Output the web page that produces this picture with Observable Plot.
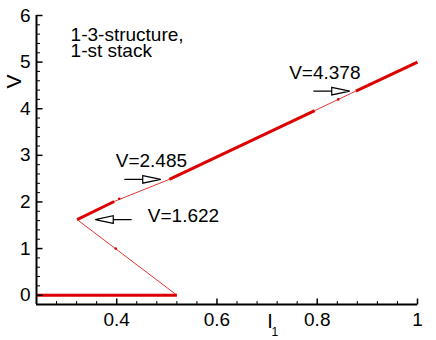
<!DOCTYPE html>
<html><head><meta charset="utf-8">
<script src="https://cdn.jsdelivr.net/npm/d3@7"></script>
<script src="https://cdn.jsdelivr.net/npm/@observablehq/plot@0.6"></script>
<style>body{margin:0;background:#fff}</style>
</head><body><div id="chart"></div>
<script>
// Branch of the I-V curve (vertices) and kind of each segment between them
const pathI = [0.24, 0.52, 0.321, 0.395, 0.505, 0.795, 0.877, 1.0];
const pathV = [0, 0, 1.622, 2.01, 2.485, 3.96, 4.378, 5.0];
const segKind = ["stable", "jump", "stable", "jump", "stable", "jump", "stable"];
// small sample points on the jump segments
const dotI = [0.398, 0.405, 0.842];
const dotV = [1.0, 2.07, 4.2];
// annotations
const annoText = ["V=2.485", "V=1.622", "V=4.378"];
const annoI = [0.398, 0.462, 0.744];
const annoV = [3.05, 1.864, 4.928];
const arrowI = [0.416, 0.429, 0.793];
const arrowV = [2.485, 1.622, 4.378];
const arrowDir = ["right", "left", "right"];
const titleLines = ["1-3-structure,", "1-st stack"];
const titleI = [0.308, 0.308];
const titleV = [5.749, 5.393];
// ticks
const xTicks = [0.4, 0.6, 0.8, 1.0];
const xTickLabels = ["0.4", "0.6", "0.8", "1"];
const yTicks = [0, 1, 2, 3, 4, 5, 6];
const yTickLabels = ["0", "1", "2", "3", "4", "5", "6"];
const xMinor = [0.28, 0.32, 0.36, 0.44, 0.48, 0.52, 0.56, 0.64, 0.68, 0.72, 0.76, 0.84, 0.88, 0.92, 0.96];
const yMinor = [0.2,0.4,0.6,0.8,1.2,1.4,1.6,1.8,2.2,2.4,2.6,2.8,3.2,3.4,3.6,3.8,4.2,4.4,4.6,4.8,5.2,5.4,5.6,5.8];
const xMin = 0.24, xMax = 1.0, yMin = -0.2, yMax = 6;

const segs = segKind.map((k, i) => ({k, x1: pathI[i], y1: pathV[i], x2: pathI[i + 1], y2: pathV[i + 1]}));
const dots = dotI.map((x, i) => ({x, y: dotV[i]}));
const annos = annoText.map((t, i) => ({t, x: annoI[i], y: annoV[i]}));
const titles = titleLines.map((t, i) => ({t, x: titleI[i], y: titleV[i]}));
const arrows = arrowI.map((x, i) => ({x, y: arrowV[i], rot: arrowDir[i] === "right" ? 90 : -90}));

const red = "#dc0000";
const font = '"Liberation Sans", Arial, Helvetica, sans-serif';
const tickShape = {draw(ctx, l) { ctx.moveTo(0, 0); ctx.lineTo(0, -l); }};
const arrowShape = {draw(ctx, l) {
  const h = 18, w = 3.8;
  ctx.moveTo(0, 0); ctx.lineTo(0, -(l - h));
  ctx.moveTo(-w, -(l - h)); ctx.lineTo(0, -l); ctx.lineTo(w, -(l - h)); ctx.closePath();
}};

const chart = Plot.plot({
  width: 436, height: 340,
  marginLeft: 36, marginRight: 19, marginTop: 15, marginBottom: 36,
  x: {domain: [xMin, xMax], axis: null},
  y: {domain: [yMin, yMax], axis: null},
  style: {fontFamily: font, fontSize: "19px", color: "black", background: "white"},
  marks: [
    Plot.link(segs.filter(d => d.k === "jump"), {x1: "x1", y1: "y1", x2: "x2", y2: "y2", stroke: red, strokeWidth: 0.8}),
    Plot.link(segs.filter(d => d.k === "stable"), {x1: "x1", y1: "y1", x2: "x2", y2: "y2", stroke: red, strokeWidth: 3, strokeLinecap: "butt"}),
    Plot.dot(dots, {x: "x", y: "y", r: 1.3, fill: red, stroke: null}),
    // axes lines
    Plot.ruleX([xMin], {stroke: "black", strokeWidth: 2}),
    Plot.ruleY([yMin], {stroke: "black", strokeWidth: 2}),
    // ticks (inward)
    Plot.vector(xTicks, {x: d => d, y: yMin, rotate: 0, length: 6, anchor: "start", shape: tickShape, stroke: "black", strokeWidth: 1.5, strokeLinecap: "butt"}),
    Plot.vector(xMinor, {x: d => d, y: yMin, rotate: 0, length: 3.5, anchor: "start", shape: tickShape, stroke: "black", strokeWidth: 1, strokeLinecap: "butt"}),
    Plot.vector(yTicks, {x: xMin, y: d => d, rotate: 90, length: 6, anchor: "start", shape: tickShape, stroke: "black", strokeWidth: 1.5, strokeLinecap: "butt"}),
    Plot.vector(yMinor, {x: xMin, y: d => d, rotate: 90, length: 3.5, anchor: "start", shape: tickShape, stroke: "black", strokeWidth: 1, strokeLinecap: "butt"}),
    // tick labels
    Plot.text(xTicks, {x: d => d, y: yMin, text: (d, i) => xTickLabels[i], dy: 8, lineAnchor: "top", fontSize: 19, fill: "black"}),
    Plot.text(yTicks, {x: xMin, y: d => d, text: (d, i) => yTickLabels[i], dx: -6, textAnchor: "end", lineAnchor: "middle", fontSize: 19, fill: "black"}),
    // axis titles
    Plot.text(["V"], {x: xMin, y: 4.585, dx: -22, text: d => d, rotate: -90, textAnchor: "middle", lineAnchor: "middle", fontSize: 21, fill: "black"}),
    Plot.text(["I"], {x: 0.706, y: yMin, dy: 9, text: d => d, textAnchor: "middle", lineAnchor: "top", fontSize: 20, fill: "black"}),
    Plot.text(["1"], {x: 0.7155, y: yMin, dy: 23, text: d => d, textAnchor: "middle", lineAnchor: "top", fontSize: 12, fill: "black"}),
    // annotations
    Plot.text(titles, {x: "x", y: "y", text: "t", textAnchor: "start", lineAnchor: "top", fontSize: 19, fill: "black"}),
    Plot.text(annos, {x: "x", y: "y", text: "t", textAnchor: "start", lineAnchor: "top", fontSize: 19, fill: "black"}),
    Plot.vector(arrows, {x: "x", y: "y", rotate: "rot", length: 36, anchor: "start", shape: arrowShape, stroke: "black", fill: "white", strokeWidth: 1.2, strokeLinejoin: "miter"})
  ]
});
document.getElementById("chart").appendChild(chart);
</script>
</body></html>
